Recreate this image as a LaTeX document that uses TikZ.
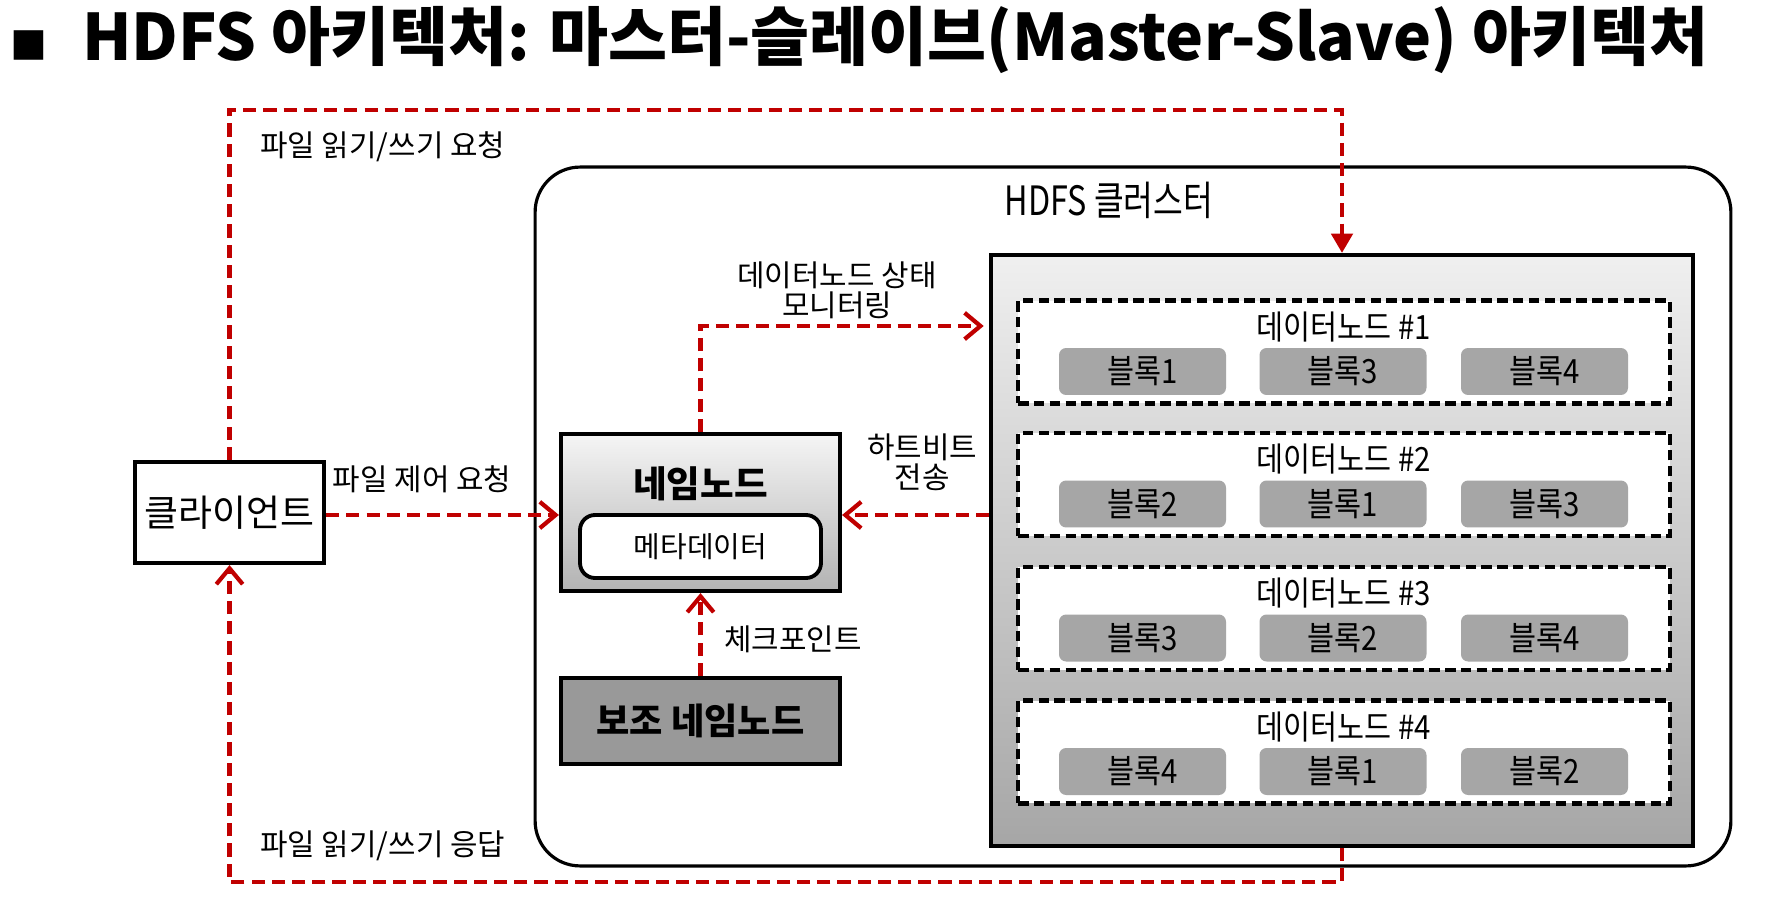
\documentclass[tikz,border=0pt]{standalone}
\usepackage{fontspec}
\setmainfont{Noto Sans CJK KR}
\newfontfamily\krc{Noto Sans CJK KR}[FakeStretch=0.88]
\newfontfamily\krcc{Noto Sans CJK KR}[FakeStretch=0.8]
\usetikzlibrary{arrows.meta}
\definecolor{dred}{HTML}{C00000}
\definecolor{blockgray}{HTML}{A6A6A6}
\definecolor{secgray}{HTML}{999999}
\begin{document}
\begin{tikzpicture}[x=0.02cm,y=-0.02cm,
  redline/.style={draw=dred, line width=2.6pt, dash pattern=on 7.5pt off 4pt},
  barb/.style={-{Straight Barb[length=9pt,width=15pt,line width=2.4pt]}},
  tri/.style={-{Triangle[length=11pt,width=12pt]}},
  lbl/.style={font=\fontsize{17}{17}\selectfont, inner sep=0pt, align=center},
  dnbox/.style={draw, line width=2.4pt, dash pattern=on 6pt off 3pt, fill=white, minimum width=13.04cm, minimum height=2.06cm},
  blockbox/.style={fill=blockgray, rounded corners=4pt, minimum width=3.34cm, minimum height=0.94cm, font=\krc\fontsize{19}{20}\selectfont, inner sep=0pt},
  dnlabel/.style={font=\krc\fontsize{19}{20}\selectfont, inner sep=0pt}
]
\useasboundingbox (0,0) rectangle (1774,912);

% title
\node[inner sep=0pt, font=\fontsize{21}{21}\selectfont] (sq) at (29,45) {■};
\node[anchor=west, inner sep=0pt, font=\bfseries\fontsize{36.5}{40}\selectfont] (title) at (82,40) {HDFS 아키텍처: 마스터-슬레이브(Master-Slave) 아키텍처};

% cluster
\node[draw, line width=1.8pt, rounded corners=0.9cm, minimum width=23.92cm, minimum height=13.98cm] (cluster) at (1133,516.5) {};
\node[font=\krcc\fontsize{23}{24}\selectfont, inner sep=0pt] (clusterlbl) at (1109,200) {HDFS 클러스터};

% datanode container
\node[draw, line width=2.4pt, top color=gray!12, bottom color=blockgray, minimum width=14.04cm, minimum height=11.82cm] (dn) at (1342,550.5) {};

\foreach \i/\y/\a/\b/\c in {1/352/1/3/4, 2/484.5/2/1/3, 3/618.5/3/2/4, 4/752/4/1/2}{
  \node[dnbox] (dn\i) at (1344,\y) {};
  \node[dnlabel] (dn\i l) at (1344,\y-25) {데이터노드 \#\i};
  \node[blockbox] (b\i a) at (1142.5,\y+19.5) {블록\a};
  \node[blockbox] (b\i b) at (1343,\y+19.5) {블록\b};
  \node[blockbox] (b\i c) at (1544.5,\y+19.5) {블록\c};
}

% client
\node[draw, line width=2.4pt, fill=white, minimum width=3.78cm, minimum height=2.02cm, font=\fontsize{21}{24}\selectfont] (client) at (229.5,512.5) {클라이언트};

% namenode
\node[draw, line width=2.4pt, top color=gray!8, bottom color=gray!60, minimum width=5.58cm, minimum height=3.14cm] (nn) at (700.5,512.5) {};
\node[font=\bfseries\fontsize{20.8}{22}\selectfont, inner sep=0pt] (nnlbl) at (700.5,484) {네임노드};
\node[draw, line width=2.2pt, fill=white, rounded corners=0.3cm, minimum width=4.82cm, minimum height=1.26cm, font=\fontsize{16.5}{18}\selectfont] (meta) at (700.5,546.5) {메타데이터};

% secondary namenode
\node[draw, line width=2.4pt, fill=secgray, minimum width=5.58cm, minimum height=1.72cm, font=\bfseries\fontsize{20.6}{22}\selectfont] (sec) at (700.5,721) {보조 네임노드};

% connectors
\coordinate (topY) at (0,110);
\coordinate (botY) at (0,882);
\coordinate (monY) at (0,326);
\coordinate (hbY) at (0,515);

\draw[redline, tri] (client.north) -- (client.north |- topY) -- (dn.north |- topY) -- (dn.north);
\draw[redline, barb] (dn.south) -- (dn.south |- botY) -- (client.south |- botY) -- (client.south);
\draw[redline, barb] (client.east |- hbY) -- (nn.west |- hbY);
\draw[redline, barb] (dn.west |- hbY) -- (nn.east |- hbY);
\draw[redline, barb] (nn.north) -- (nn.north |- monY) -- ([xshift=-3pt]dn.west |- monY);
\draw[redline, barb] (sec.north) -- (nn.south);

% labels
\node[lbl, anchor=west] (l1) at (260,147) {파일 읽기/쓰기 요청};
\node[lbl, anchor=west] (l2) at (260,846) {파일 읽기/쓰기 응답};
\node[lbl] (l3) at (422,479) {파일 제어 요청};
\node[lbl] (l4) at (922,462) {하트비트\\전송};
\node[lbl] (l5) at (837,290) {데이터노드 상태\\모니터링};
\node[lbl] (l6) at (793,639) {체크포인트};
\end{tikzpicture}
\end{document}
